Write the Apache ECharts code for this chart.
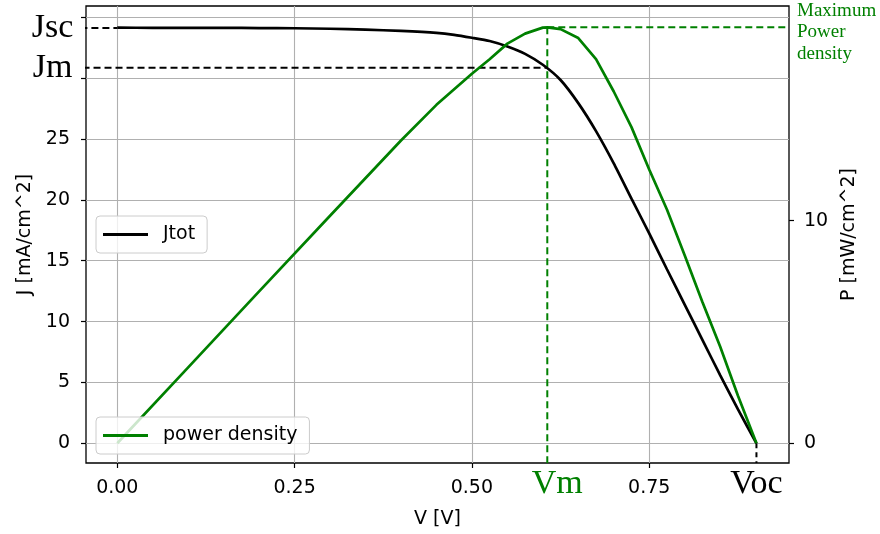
<!DOCTYPE html>
<html>
<head>
<meta charset="utf-8">
<script src="https://cdn.jsdelivr.net/npm/echarts@6/dist/echarts.min.js"></script>
<style>html,body{margin:0;padding:0;background:#fff}#c{width:880px;height:534px}</style>
</head>
<body>
<div id="c"></div>
<script>
// ---- data ----
const voltageJ = [0, 0.05, 0.1, 0.15, 0.2, 0.25, 0.3, 0.35, 0.4, 0.45, 0.475, 0.5, 0.525, 0.55, 0.575, 0.6, 0.625, 0.65, 0.675, 0.7, 0.725, 0.75, 0.775, 0.8, 0.825, 0.85, 0.875, 0.9012];
const currentJ = [34.15, 34.14, 34.14, 34.13, 34.12, 34.1, 34.06, 33.99, 33.88, 33.72, 33.56, 33.32, 33.05, 32.6, 32.0, 31.1, 29.85, 27.95, 25.65, 23.0, 20.1, 17.25, 14.3, 11.4, 8.5, 5.6, 2.8, 0];
const voltageP = [0, 0.1, 0.2, 0.3, 0.4, 0.45, 0.5, 0.525, 0.55, 0.575, 0.6, 0.6063, 0.625, 0.65, 0.675, 0.7, 0.725, 0.75, 0.775, 0.8, 0.825, 0.85, 0.875, 0.9012];
const powerP = [0, 3.41, 6.82, 10.22, 13.6, 15.2, 16.6, 17.25, 17.95, 18.4, 18.67, 18.68, 18.6, 18.2, 17.25, 15.8, 14.2, 12.3, 10.5, 8.45, 6.35, 4.35, 2.15, 0];

const Jsc = 34.13, Jm = 30.85, Vm = 0.6063, Voc = 0.9012, Pmax = 18.68;

const xTicks = [0, 0.25, 0.5, 0.75];
const jTicks = [0, 5, 10, 15, 20, 25, 30, 35];
const jLabels = [0, 5, 10, 15, 20, 25];
const pTicks = [0, 10];

const xRange = [-0.0441, 0.9471];
const jRange = [-1.62, 35.93];
const pRange = [-0.885, 19.64];

const labelJsc = 'Jsc', labelJm = 'Jm', labelVm = 'Vm', labelVoc = 'Voc';
const labelPmax = 'Maximum\nPower\ndensity';
const dashStart = -0.052;

// ---- chart ----
const chart = echarts.init(document.getElementById('c'), null, {renderer: 'canvas'});
const sans = 'DejaVu Sans';
const serif = 'Liberation Serif';
const green = '#008000';
const pairs = (xs, ys) => xs.map((x, i) => [x, ys[i]]);

const axisCommon = {
  axisLine: {show: false, onZero: false},
  axisTick: {show: true, inside: false, length: 5, lineStyle: {color: '#000', width: 1.2}},
  axisLabel: {color: '#000', fontFamily: sans, fontSize: 19},
  nameTextStyle: {color: '#000', fontFamily: sans, fontSize: 19}
};

const serifLabel = (txt, extra) => Object.assign({
  show: true, formatter: txt, fontFamily: serif, fontSize: 34, color: '#000'
}, extra);

chart.setOption({
  animation: false,
  backgroundColor: '#fff',
  grid: {left: 86, top: 6, width: 703, height: 457, show: true, borderColor: '#000', borderWidth: 1.3, backgroundColor: 'transparent', containLabel: false},
  xAxis: [{
    type: 'value', min: xRange[0], max: xRange[1],
    name: 'V [V]', nameLocation: 'middle', nameGap: 47,
    nameTextStyle: axisCommon.nameTextStyle,
    axisLine: axisCommon.axisLine,
    axisTick: Object.assign({}, axisCommon.axisTick, {customValues: xTicks}),
    axisLabel: Object.assign({}, axisCommon.axisLabel, {customValues: xTicks, margin: 16, formatter: v => v.toFixed(2)}),
    splitLine: {show: true, lineStyle: {color: '#b0b0b0', width: 1.1}}
  }],
  yAxis: [{
    type: 'value', min: jRange[0], max: jRange[1], position: 'left',
    name: 'J [mA/cm^2]', nameLocation: 'middle', nameGap: 51, nameRotate: 90,
    nameTextStyle: axisCommon.nameTextStyle,
    axisLine: axisCommon.axisLine,
    axisTick: Object.assign({}, axisCommon.axisTick, {customValues: jTicks}),
    axisLabel: Object.assign({}, axisCommon.axisLabel, {customValues: jLabels, margin: 16}),
    splitLine: {show: true, lineStyle: {color: '#b0b0b0', width: 1.1}}
  }, {
    type: 'value', min: pRange[0], max: pRange[1], position: 'right',
    name: 'P [mW/cm^2]', nameLocation: 'middle', nameGap: 50, nameRotate: 90,
    nameTextStyle: axisCommon.nameTextStyle,
    axisLine: axisCommon.axisLine,
    axisTick: Object.assign({}, axisCommon.axisTick, {customValues: pTicks}),
    axisLabel: Object.assign({}, axisCommon.axisLabel, {customValues: pTicks, margin: 15}),
    splitLine: {show: false}
  }],
  legend: [{
    data: ['Jtot'], left: 96, top: 216, orient: 'vertical',
    icon: 'rect', itemWidth: 45, itemHeight: 3,
    backgroundColor: 'rgba(255,255,255,0.8)', borderColor: '#cccccc', borderWidth: 1, borderRadius: 4,
    padding: [9, 12, 9, 7],
    textStyle: {fontFamily: sans, fontSize: 19, color: '#000', padding: [0, 0, 0, 10]}
  }, {
    data: ['power density'], left: 96, top: 417, orient: 'vertical',
    icon: 'rect', itemWidth: 45, itemHeight: 3,
    backgroundColor: 'rgba(255,255,255,0.8)', borderColor: '#cccccc', borderWidth: 1, borderRadius: 4,
    padding: [9, 12, 9, 7],
    textStyle: {fontFamily: sans, fontSize: 19, color: '#000', padding: [0, 0, 0, 10]}
  }],
  series: [
    {
      name: 'Jtot', type: 'line', xAxisIndex: 0, yAxisIndex: 0,
      data: pairs(voltageJ, currentJ), showSymbol: false, smooth: 0.2,
      lineStyle: {color: '#000', width: 2.7}, itemStyle: {color: '#000'}, z: 3
    },
    {
      name: 'power density', type: 'line', xAxisIndex: 0, yAxisIndex: 1,
      data: pairs(voltageP, powerP), showSymbol: false,
      lineStyle: {color: green, width: 2.7}, itemStyle: {color: green}, z: 3
    },
    {
      type: 'line', xAxisIndex: 0, yAxisIndex: 0, clip: false, showSymbol: false, silent: true,
      data: [[dashStart, Jsc], [0, Jsc]],
      lineStyle: {color: '#000', width: 2, type: [7, 4]}, z: 2
    },
    {
      type: 'line', xAxisIndex: 0, yAxisIndex: 0, clip: false, showSymbol: false, silent: true,
      data: [[dashStart + 0.003, Jm], [Vm, Jm]],
      lineStyle: {color: '#000', width: 2, type: [7, 4]}, z: 2
    },
    {
      type: 'line', xAxisIndex: 0, yAxisIndex: 0, clip: false, showSymbol: false, silent: true,
      data: [[Voc, 0], [Voc, jRange[0]]],
      lineStyle: {color: '#000', width: 2, type: [5, 4]}, z: 2
    },
    {
      type: 'line', xAxisIndex: 0, yAxisIndex: 1, clip: false, showSymbol: false, silent: true,
      data: [[Vm, Pmax], [Vm, pRange[0]]],
      lineStyle: {color: green, width: 2, type: [7, 4]}, z: 2
    },
    {
      type: 'line', xAxisIndex: 0, yAxisIndex: 1, clip: false, showSymbol: false, silent: true,
      data: [[Vm, Pmax], [xRange[1], Pmax]],
      lineStyle: {color: green, width: 2, type: [7, 4]}, z: 2
    },
    {
      type: 'scatter', xAxisIndex: 0, yAxisIndex: 0, clip: false, symbolSize: 0, silent: true,
      itemStyle: {opacity: 1},
      data: [
        {value: [dashStart, Jsc], label: serifLabel(labelJsc, {position: 'left', distance: 7})},
        {value: [dashStart, Jm], label: serifLabel(labelJm, {position: 'left', distance: 8})},
        {value: [Voc, jRange[0]], label: serifLabel(labelVoc, {position: 'bottom', distance: 4})}
      ]
    },
    {
      type: 'scatter', xAxisIndex: 0, yAxisIndex: 1, clip: false, symbolSize: 0, silent: true,
      itemStyle: {opacity: 1},
      data: [
        {value: [Vm, pRange[0]], label: serifLabel(labelVm, {position: 'bottom', distance: 4, color: green, offset: [10, 0]})},
        {value: [xRange[1], Pmax], label: {show: true, formatter: labelPmax, position: 'right', distance: 8, offset: [0, 5],
          fontFamily: serif, fontSize: 19, lineHeight: 21.5, color: green, align: 'left'}}
      ]
    }
  ]
});
</script>
</body>
</html>
